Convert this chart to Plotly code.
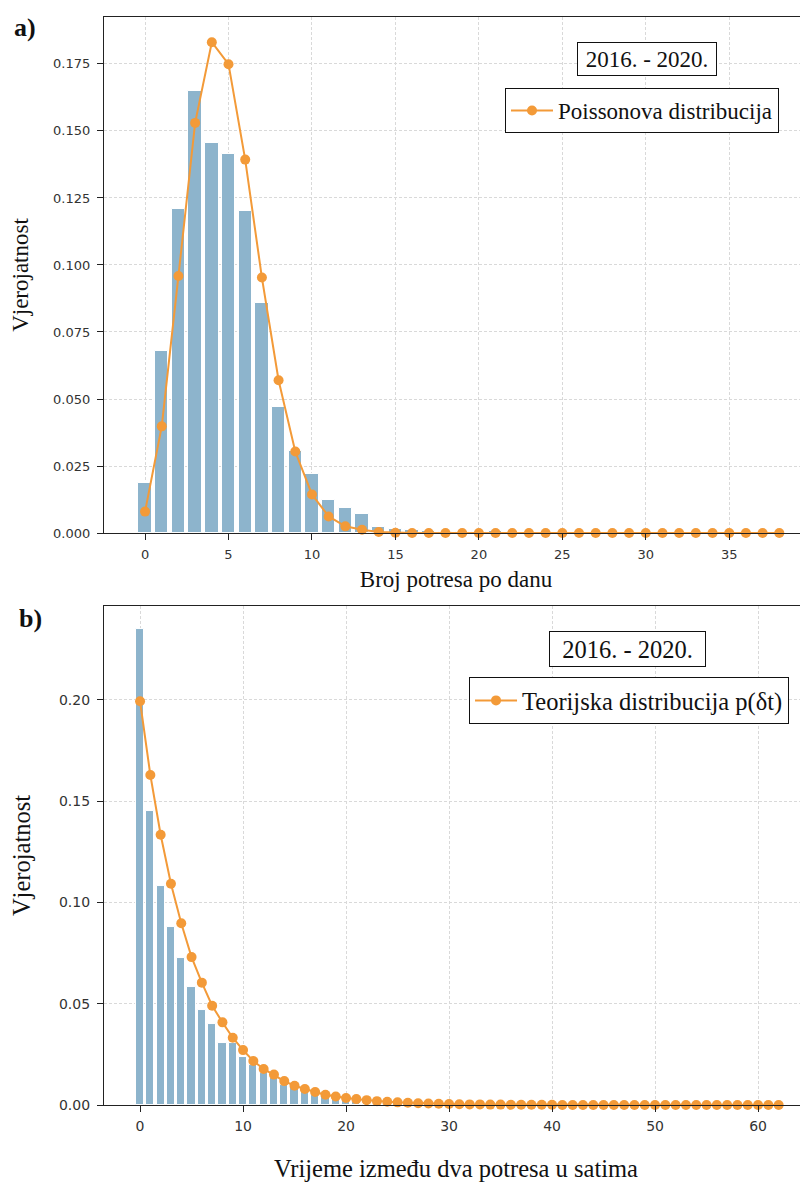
import plotly.graph_objects as go

# ---------------- data: panel a) ----------------
broj_potresa = list(range(0, 39))
udio_dana = [0.0188, 0.0678, 0.1208, 0.1650, 0.1455, 0.1414, 0.1202, 0.0860, 0.0472, 0.0306,
             0.0219, 0.0125, 0.0095, 0.0071, 0.0024, 0.0016, 0.0010, 0.0008, 0.0005, 0.0003,
             0.0003, 0.0006, 0.0002, 0.0001, 0.0001, 0.0000, 0.0000, 0.0000, 0.0000, 0.0000,
             0.0000, 0.0000, 0.0000, 0.0000, 0.0000, 0.0000, 0.0000, 0.0000, 0.0001]
poisson = [0.0080, 0.0398, 0.0959, 0.1530, 0.1831, 0.1749, 0.1393, 0.0953, 0.0570, 0.0304,
           0.0144, 0.0062, 0.0025, 0.0012, 0.0004, 0.0001, 0.0000, 0.0000, 0.0000, 0.0000,
           0.0000, 0.0000, 0.0000, 0.0000, 0.0000, 0.0000, 0.0000, 0.0000, 0.0000, 0.0000,
           0.0000, 0.0000, 0.0000, 0.0000, 0.0000, 0.0000, 0.0000, 0.0000, 0.0000]

# ---------------- data: panel b) ----------------
sati_bar = list(range(0, 36))
udio_intervala = [0.2348, 0.1451, 0.1081, 0.0877, 0.0727, 0.0584, 0.0470, 0.0401, 0.0304, 0.0306,
                  0.0235, 0.0197, 0.0160, 0.0132, 0.0099, 0.0082, 0.0066, 0.0049, 0.0038, 0.0030,
                  0.0022, 0.0015, 0.0011, 0.0008, 0.0006, 0.0005, 0.0004, 0.0003, 0.0002, 0.0002,
                  0.0001, 0.0001, 0.0001, 0.0001, 0.0000, 0.0001]
sati_teor = list(range(0, 63))
teorijska = [0.1993, 0.1629, 0.1334, 0.1092, 0.0897, 0.0730, 0.0604, 0.0490, 0.0408, 0.0332,
             0.0271, 0.0217, 0.0178, 0.0150, 0.0118, 0.0095, 0.0079, 0.0064, 0.0051, 0.0042,
             0.0035, 0.0029, 0.0024, 0.0019, 0.0016, 0.0013, 0.0011, 0.0009, 0.0007, 0.0006,
             0.0005, 0.0004, 0.0003, 0.0003, 0.0002, 0.0002, 0.0001, 0.0001, 0.0001, 0.0001,
             0.0001, 0.0000, 0.0000, 0.0000, 0.0000, 0.0000, 0.0000, 0.0000, 0.0000, 0.0000,
             0.0000, 0.0000, 0.0000, 0.0000, 0.0000, 0.0000, 0.0000, 0.0000, 0.0000, 0.0000,
             0.0000, 0.0000, 0.0000]

ticks_a_x = [0, 5, 10, 15, 20, 25, 30, 35]
ticks_a_y = [0.000, 0.025, 0.050, 0.075, 0.100, 0.125, 0.150, 0.175]
ticks_b_x = [0, 10, 20, 30, 40, 50, 60]
ticks_b_y = [0.00, 0.05, 0.10, 0.15, 0.20]

BAR = "#8db4cc"
ORANGE = "#f39a38"
SERIF = "Liberation Serif, Times New Roman, serif"
SANS = "DejaVu Sans, sans-serif"
TXT = "#111"

fig = go.Figure()

fig.add_trace(go.Bar(x=broj_potresa, y=udio_dana, width=0.8, marker=dict(color=BAR, line=dict(color="white", width=1)),
                     showlegend=False, xaxis="x", yaxis="y"))
fig.add_trace(go.Scatter(x=broj_potresa, y=poisson, mode="lines+markers", name="Poissonova distribucija",
                         line=dict(color=ORANGE, width=2), marker=dict(color=ORANGE, size=10),
                         cliponaxis=False, xaxis="x", yaxis="y", legend="legend"))

fig.add_trace(go.Bar(x=sati_bar, y=udio_intervala, width=0.8, marker=dict(color=BAR, line=dict(color="white", width=1)),
                     showlegend=False, xaxis="x2", yaxis="y2"))
fig.add_trace(go.Scatter(x=sati_teor, y=teorijska, mode="lines+markers", name="Teorijska distribucija p(δt)",
                         line=dict(color=ORANGE, width=2), marker=dict(color=ORANGE, size=10),
                         cliponaxis=False, xaxis="x2", yaxis="y2", legend="legend2"))

axis_common = dict(showline=True, linecolor="#222", linewidth=1.3, ticks="outside", ticklen=6, tickwidth=1,
                   tickcolor="#222", showgrid=True, gridcolor="#d9d9d9", griddash="3px,2px", gridwidth=0.8,
                   zeroline=False, automargin=False)

font_a = dict(family=SERIF, size=23, color=TXT)
font_b = dict(family=SERIF, size=24.5, color=TXT)
tick_a = dict(family=SANS, size=13, color="#333")
tick_b = dict(family=SANS, size=14, color="#333")

fig.update_layout(
    width=800, height=1178,
    margin=dict(l=96, r=0, t=9, b=81),
    paper_bgcolor="white", plot_bgcolor="white",
    bargap=0,
    xaxis=dict(axis_common, domain=[0, 1], anchor="y", range=[-2.46, 39.72], tickvals=ticks_a_x, mirror=True,
               ticklabelstandoff=3, tickfont=tick_a,
               title=dict(text="Broj potresa po danu", font=font_a, standoff=10)),
    yaxis=dict(axis_common, domain=[0.5257, 1], anchor="x", range=[0, 0.1925], tickvals=ticks_a_y,
               tickformat=".3f", ticklabelstandoff=4, tickfont=tick_a,
               title=dict(text="Vjerojatnost", font=font_a, standoff=22)),
    xaxis2=dict(axis_common, domain=[0, 1], anchor="y2", range=[-3.5, 64.85], tickvals=ticks_b_x, mirror=True,
                ticklabelstandoff=2, tickfont=tick_b,
                title=dict(text="Vrijeme između dva potresa u satima", font=font_b, standoff=26)),
    yaxis2=dict(axis_common, domain=[0, 0.4586], anchor="x2", range=[0, 0.2463], tickvals=ticks_b_y,
                tickformat=".2f", ticklabelstandoff=4, tickfont=tick_b,
                title=dict(text="Vjerojatnost", font=font_b, standoff=28)),
    legend=dict(x=0.5696, y=0.9347, xanchor="left", yanchor="top", bgcolor="white", bordercolor=TXT, borderwidth=1,
                font=font_a, itemwidth=42),
    legend2=dict(x=0.5185, y=0.3934, xanchor="left", yanchor="top", bgcolor="white", bordercolor=TXT, borderwidth=1,
                 font=font_b, itemwidth=42),
    annotations=[
        dict(text="2016. - 2020.", xref="paper", yref="paper", x=0.771, y=0.9614, xanchor="center", yanchor="middle",
             showarrow=False, font=font_a, bordercolor=TXT, borderwidth=1, borderpad=2, width=134, height=28,
             bgcolor="white"),
        dict(text="2016. - 2020.", xref="paper", yref="paper", x=0.744, y=0.4195, xanchor="center", yanchor="middle",
             showarrow=False, font=font_b, bordercolor=TXT, borderwidth=1, borderpad=2, width=151, height=30,
             bgcolor="white"),
        dict(text="<b>a)</b>", xref="paper", yref="paper", x=-0.112, y=0.9899, xanchor="center", yanchor="middle",
             showarrow=False, font=dict(family=SERIF, size=26, color=TXT)),
        dict(text="<b>b)</b>", xref="paper", yref="paper", x=-0.105, y=0.4476, xanchor="center", yanchor="middle",
             showarrow=False, font=dict(family=SERIF, size=26, color=TXT)),
    ],
)

fig.write_html("out.html")
